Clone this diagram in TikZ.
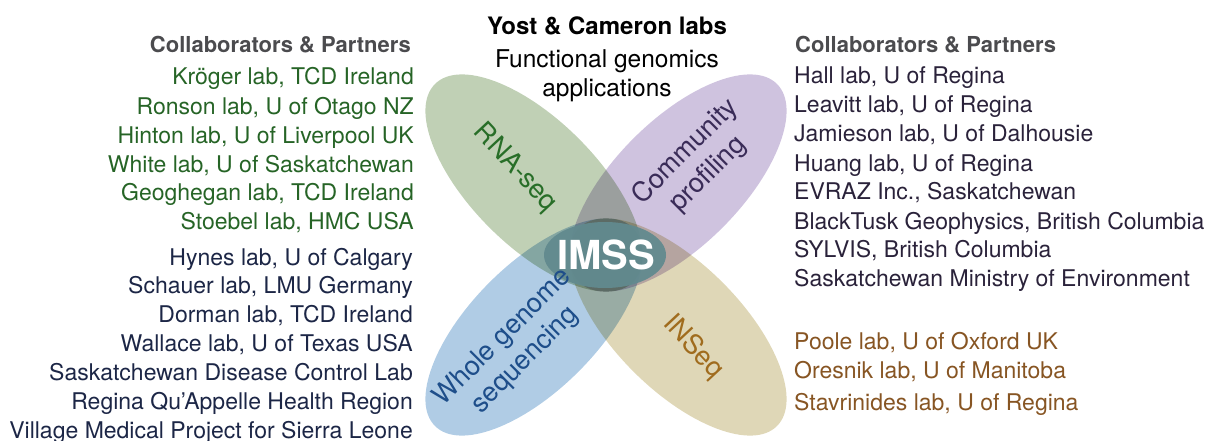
\documentclass[tikz,border=0pt]{standalone}
\usepackage{fontspec}
\setmainfont{TeX Gyre Heros}
\usetikzlibrary{shapes.geometric}

\definecolor{petalgreen}{RGB}{192,208,181}
\definecolor{petalpurple}{RGB}{207,195,223}
\definecolor{petalblue}{RGB}{176,204,229}
\definecolor{petaltan}{RGB}{223,215,183}
\definecolor{hubteal}{RGB}{98,138,143}
\definecolor{headgray}{RGB}{75,75,78}
\definecolor{leftgreen}{RGB}{38,100,38}
\definecolor{leftnavy}{RGB}{28,38,70}
\definecolor{rightpurple}{RGB}{42,34,58}
\definecolor{rightbrown}{RGB}{135,85,35}
\definecolor{rnagreen}{RGB}{40,110,40}
\definecolor{compurple}{RGB}{58,44,88}
\definecolor{wgsblue}{RGB}{30,78,138}
\definecolor{inseqbrown}{RGB}{160,108,30}

\newcommand{\collabfont}{\fontsize{23}{28}\selectfont}
\newcommand{\petalfont}{\fontsize{27}{32}\selectfont}

\tikzset{
  petal/.style={ellipse, minimum width=280pt, minimum height=126pt, inner sep=0pt},
  petallabel/.style={font=\petalfont, align=center, inner sep=0pt},
  leftitem/.style={anchor=base east, font=\collabfont, inner sep=0pt},
  rightitem/.style={anchor=base west, font=\collabfont, inner sep=0pt},
  header/.style={font=\fontsize{22}{26}\selectfont\bfseries, text=headgray, inner sep=0pt}
}

\begin{document}
\begin{tikzpicture}[x=1pt,y=-1pt]
        \useasboundingbox (0,0) rectangle (1212,441);

        % Draw the four petals
        \begin{scope}[blend group=multiply]
          \node[petal, fill=petalgreen, rotate=-45] (rnapetal) at (534,183) {};
          \node[petal, fill=petalpurple, rotate=45] (competal) at (678,183) {};
          \node[petal, fill=petalblue, rotate=45] (wgspetal) at (534,327) {};
          \node[petal, fill=petaltan, rotate=-45] (inseqpetal) at (678,327) {};
        \end{scope}

        % Hub in the middle
        \node[ellipse, minimum width=122pt, minimum height=66pt, inner sep=0pt,
              fill=hubteal, fill opacity=0.95] (hub) at (605,255) {};
        \node[font=\fontsize{40}{44}\selectfont\bfseries, text=white] (imss) at (606,255) {IMSS};

        % Petal labels
        \node[petallabel, text=rnagreen, rotate=-47] (rnalbl) at (515,168) {RNA-seq};
        \node[petallabel, text=compurple, rotate=45] (comlbl) at (697,163) {Community\\profiling};
        \node[petallabel, text=wgsblue, rotate=45] (wgslbl) at (514,349) {Whole genome\\sequencing};
        \node[petallabel, text=inseqbrown, rotate=-47] (inseqlbl) at (693,347) {INSeq};

        % Title (Centered)
        \node[anchor=base, font=\fontsize{24}{28}\selectfont\bfseries] (labs) at (607,35) {Yost \& Cameron labs};
        \node[anchor=base, font=\fontsize{24.5}{28}\selectfont] (func) at (607,68) {Functional genomics};
        \node[anchor=base, font=\fontsize{24.5}{28}\selectfont] (appl) at (607,97) {applications};

        % Left column
        \node[header, anchor=base east] (lhead) at (411,53) {Collaborators \& Partners};

        % Left column - RNA-seq partners
        \node[leftitem, text=leftgreen] (kroeger) at (414,85) {Kröger lab, TCD Ireland};
        \node[leftitem, text=leftgreen] (ronson) at (414,114) {Ronson lab, U of Otago NZ};
        \node[leftitem, text=leftgreen] (hinton) at (414,143) {Hinton lab, U of Liverpool UK};
        \node[leftitem, text=leftgreen] (white) at (414,172) {White lab, U of Saskatchewan};
        \node[leftitem, text=leftgreen] (geoghegan) at (414,200) {Geoghegan lab, TCD Ireland};
        \node[leftitem, text=leftgreen] (stoebel) at (414,229) {Stoebel lab, HMC USA};

        % Left column - genome sequencing partners
        \node[leftitem, text=leftnavy] (hynes) at (413,265) {Hynes lab, U of Calgary};
        \node[leftitem, text=leftnavy] (schauer) at (413,293) {Schauer lab, LMU Germany};
        \node[leftitem, text=leftnavy] (dorman) at (413,322) {Dorman lab, TCD Ireland};
        \node[leftitem, text=leftnavy] (wallace) at (413,351) {Wallace lab, U of Texas USA};
        \node[leftitem, text=leftnavy] (sdcl) at (413,380) {Saskatchewan Disease Control Lab};
        \node[leftitem, text=leftnavy] (rqhr) at (413,409) {Regina Qu'Appelle Health Region};
        \node[leftitem, text=leftnavy] (village) at (413,438) {Village Medical Project for Sierra Leone};

        % Right column
        \node[header, anchor=base west] (rhead) at (795,53) {Collaborators \& Partners};

        % Right column - community profiling partners
        \node[rightitem, text=rightpurple] (hall) at (794,84) {Hall lab, U of Regina};
        \node[rightitem, text=rightpurple] (leavitt) at (794,113) {Leavitt lab, U of Regina};
        \node[rightitem, text=rightpurple] (jamieson) at (794,142) {Jamieson lab, U of Dalhousie};
        \node[rightitem, text=rightpurple] (huang) at (794,171) {Huang lab, U of Regina};
        \node[rightitem, text=rightpurple] (evraz) at (794,199) {EVRAZ Inc., Saskatchewan};
        \node[rightitem, text=rightpurple] (blacktusk) at (794,229) {BlackTusk Geophysics, British Columbia};
        \node[rightitem, text=rightpurple] (sylvis) at (794,257) {SYLVIS, British Columbia};
        \node[rightitem, text=rightpurple] (ministry) at (794,286) {Saskatchewan Ministry of Environment};

        % Right column - INSeq partners
        \node[rightitem, text=rightbrown] (poole) at (794,349) {Poole lab, U of Oxford UK};
        \node[rightitem, text=rightbrown] (oresnik) at (794,378) {Oresnik lab, U of Manitoba};
        \node[rightitem, text=rightbrown] (stavrinides) at (794,410) {Stavrinides lab, U of Regina};

    \end{tikzpicture}
\end{document}
